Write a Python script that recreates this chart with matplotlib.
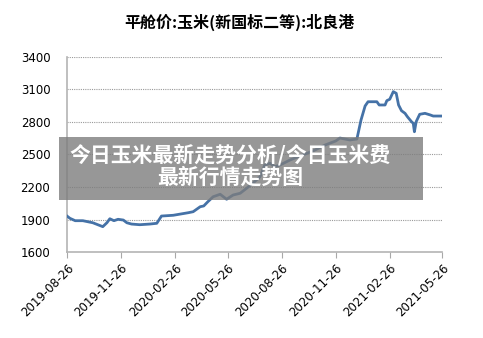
import pandas as pd
import matplotlib.pyplot as plt
from matplotlib.patches import Rectangle

plt.rcParams['font.family'] = ['Noto Sans CJK SC', 'DejaVu Sans']

dates = ["2019-08-26", "2019-08-31", "2019-09-09", "2019-09-22", "2019-10-09",
         "2019-10-26", "2019-11-02", "2019-11-07", "2019-11-14", "2019-11-21",
         "2019-11-30", "2019-12-06", "2019-12-14", "2019-12-28", "2020-01-14",
         "2020-01-26", "2020-02-03", "2020-02-23", "2020-03-20", "2020-03-28",
         "2020-04-09", "2020-04-15", "2020-04-22", "2020-05-01", "2020-05-13",
         "2020-05-24", "2020-06-04", "2020-06-16", "2020-06-27", "2020-07-08",
         "2020-07-20", "2020-07-28", "2020-08-06", "2020-08-14", "2020-08-23",
         "2020-09-09", "2020-09-26", "2020-10-18", "2020-11-08", "2020-11-26",
         "2020-12-03", "2020-12-20", "2021-01-01", "2021-01-08", "2021-01-15",
         "2021-01-20", "2021-02-04", "2021-02-08", "2021-02-18", "2021-02-21",
         "2021-02-26", "2021-03-04", "2021-03-09", "2021-03-13", "2021-03-18",
         "2021-03-24", "2021-03-28", "2021-04-04", "2021-04-07", "2021-04-09",
         "2021-04-12", "2021-04-18", "2021-04-27", "2021-05-06", "2021-05-11",
         "2021-05-28"]
prices = [1932, 1911, 1889, 1889, 1870,
          1834, 1870, 1907, 1889, 1902,
          1895, 1870, 1858, 1852, 1858,
          1865, 1932, 1939, 1963, 1972,
          2018, 2025, 2064, 2110, 2133,
          2087, 2126, 2142, 2188, 2237,
          2295, 2403, 2419, 2388, 2403,
          2449, 2486, 2532, 2588, 2625,
          2652, 2634, 2643, 2818, 2948,
          2987, 2987, 2957, 2957, 2997,
          3010, 3080, 3065, 2957, 2904,
          2880, 2849, 2803, 2788, 2710,
          2803, 2871, 2880, 2865, 2855,
          2855]

tick_dates = ["2019-08-26", "2019-11-26", "2020-02-26", "2020-05-26",
              "2020-08-26", "2020-11-26", "2021-02-26", "2021-05-26"]
y_ticks = [1600, 1900, 2200, 2500, 2800, 3100, 3400]

title = "平舱价:玉米(新国标二等):北良港"
banner_lines = ["今日玉米最新走势分析/今日玉米费", "最新行情走势图"]

df = pd.DataFrame({"date": pd.to_datetime(dates), "price": prices})
ticks = pd.to_datetime(tick_dates)

fig = plt.figure(figsize=(4.83, 3.38), dpi=100)
ax = fig.add_axes([0.1387, 0.2544, 0.7764, 0.577])

for v in y_ticks[1:]:
    ax.axhline(v, color='#9a9a9a', linestyle=(0, (1, 1)), linewidth=0.8, zorder=1)

ax.plot(df["date"], df["price"], color='#4572a7', linewidth=2.0, zorder=3)

ax.set_xlim(ticks[0], ticks[-1])
ax.set_ylim(1600, 3400)
ax.set_yticks(y_ticks)
ax.set_yticklabels([str(v) for v in y_ticks], fontsize=8.5, family='DejaVu Sans')
ax.set_xticks(ticks)
ax.set_xticklabels(tick_dates, rotation=45, ha='right', rotation_mode='anchor',
                   fontsize=8.5, family='DejaVu Sans')
ax.tick_params(axis='y', length=0, pad=12)
ax.tick_params(axis='x', length=4, color='#a8a8a8', direction='out', pad=3)
for s in ['top', 'right']:
    ax.spines[s].set_visible(False)
for s in ['left', 'bottom']:
    ax.spines[s].set_color('#b4b4b4')
    ax.spines[s].set_linewidth(1.2)
ax.set_clip_on(False)

fig.text(239 / 483, 1 - 22 / 338, title, ha='center', va='center',
         fontsize=11.5, fontweight='bold')

fig.patches.append(Rectangle((59 / 483, 1 - 200 / 338), 364 / 483, 63 / 338,
                             transform=fig.transFigure, facecolor='#7d7d7d',
                             alpha=0.8, edgecolor='none', zorder=5))
fig.text(230 / 483, 1 - 155 / 338, banner_lines[0], ha='center', va='center',
         fontsize=15, fontweight='bold', color='white', zorder=6)
fig.text(230 / 483, 1 - 177 / 338, banner_lines[1], ha='center', va='center',
         fontsize=15, fontweight='bold', color='white', zorder=6)

fig.savefig("out.png", dpi=100)
